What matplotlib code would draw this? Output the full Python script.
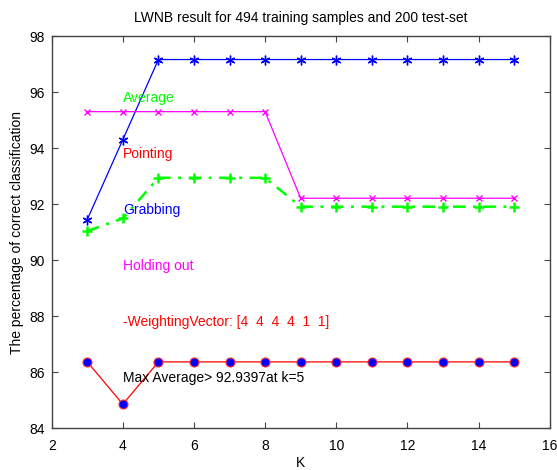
import numpy as np
import matplotlib
matplotlib.use("Agg")
import matplotlib.pyplot as plt

plt.rcParams['font.family'] = ['Liberation Sans', 'DejaVu Sans']

k = [3, 4, 5, 6, 7, 8, 9, 10, 11, 12, 13, 14, 15]
grabbing = [91.45, 94.30, 97.16, 97.16, 97.16, 97.16, 97.16, 97.16, 97.16, 97.16, 97.16, 97.16, 97.16]
holding = [95.30, 95.30, 95.30, 95.30, 95.30, 95.30, 92.21, 92.21, 92.21, 92.21, 92.21, 92.21, 92.21]
pointing = [86.37, 84.86, 86.37, 86.37, 86.37, 86.37, 86.37, 86.37, 86.37, 86.37, 86.37, 86.37, 86.37]
average = [91.04, 91.49, 92.94, 92.94, 92.94, 92.94, 91.91, 91.91, 91.91, 91.91, 91.91, 91.91, 91.91]

labels = ["Average", "Pointing", "Grabbing", "Holding out",
          "-WeightingVector: [4  4  4  4  1  1]", "Max Average> 92.9397at k=5"]
label_colors = ["#00ff00", "#ff0000", "#0000ff", "#ff00ff", "#ff0000", "black"]
label_y = [95.8, 93.8, 91.8, 89.8, 87.8, 85.8]

fig = plt.figure(figsize=(5.57, 4.70), dpi=100)
ax = fig.add_axes([0.0928, 0.0887, 0.894, 0.8347])

# matlab style asterisk
ax.plot(k, grabbing, color="#0000ff", marker=(6, 2, 0), markersize=7,
        markeredgewidth=1.0, lw=0.9)
ax.plot(k, holding, color="#ff00ff", marker="x", markersize=4, lw=0.9)
ax.plot(k, average, color="#00ff00", marker="+", markersize=7, markeredgewidth=1.8,
        lw=1.8, linestyle=(0, (5, 3, 1.2, 3)))
ax.plot(k, pointing, color="#ff0000", marker="o", markersize=6.5,
        markerfacecolor="#0000ff", markeredgecolor="#ff3030", markeredgewidth=0.8, lw=0.9)

for txt, c, yv in zip(labels, label_colors, label_y):
    ax.text(4, yv, txt, color=c, fontsize=10, va="center", ha="left")

ax.set_xlim(2, 16)
ax.set_ylim(84, 98)
ax.set_xticks(range(2, 17, 2))
ax.set_yticks(range(84, 99, 2))
ax.tick_params(direction="in", top=True, right=True, labelsize=10, length=4,
               color="#444444")
ax.tick_params(axis="x", pad=8)
ax.tick_params(axis="y", pad=5)
for s in ax.spines.values():
    s.set_color("#444444")
    s.set_linewidth(1.0)

ax.set_xlabel("K", fontsize=10, labelpad=2)
ax.set_ylabel("The percentage of correct classification", fontsize=10, labelpad=4)
ax.set_title("LWNB result for 494 training samples and 200 test-set", fontsize=10, pad=10)

fig.savefig("out.png", dpi=100)
